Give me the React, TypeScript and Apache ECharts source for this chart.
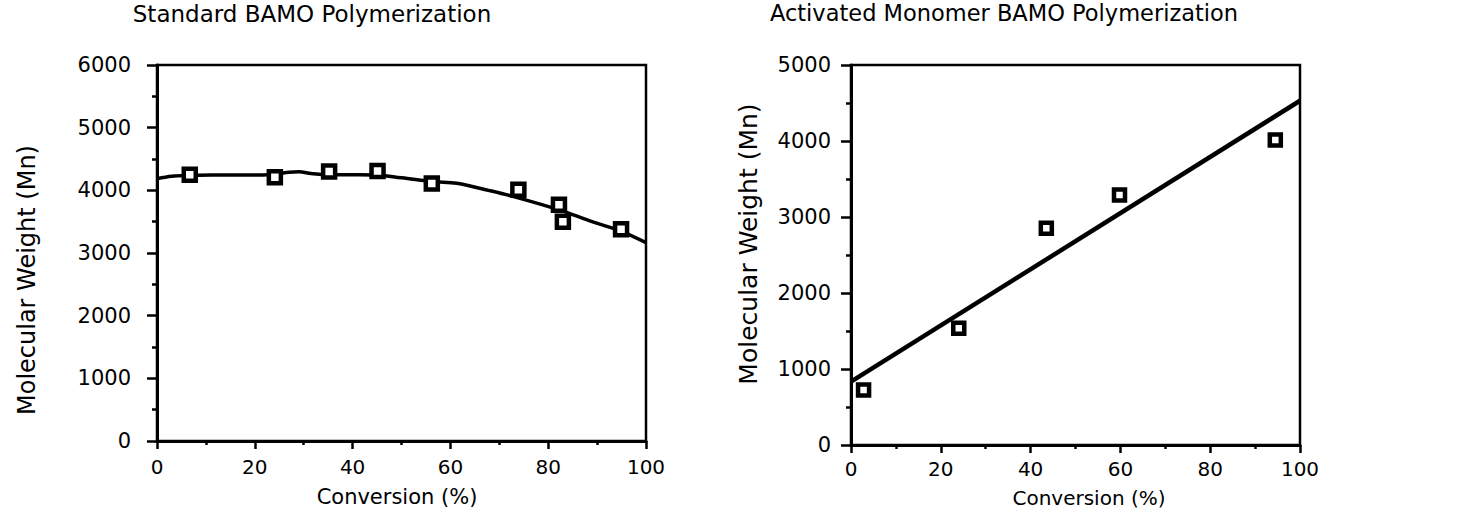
import React, { useEffect, useRef } from "react";
import * as echarts from "echarts";

// Standard BAMO polymerization: measured points (conversion %, Mn)
const stdConversion = [6.7, 24.1, 35.2, 45.1, 56.2, 73.9, 82.2, 83.0, 94.9];
const stdMn = [4250, 4210, 4300, 4310, 4110, 4010, 3770, 3500, 3380];

// Standard BAMO polymerization: fitted curve
const stdFitConversion = [0, 3, 6.7, 12, 17, 21, 24.5, 27, 29, 31.5, 34, 40, 44.2, 50, 56.5, 61.3, 68, 73.5, 82.4, 88.5, 94.7, 100];
const stdFitMn = [4185, 4225, 4238, 4244, 4246, 4246, 4262, 4290, 4296, 4268, 4250, 4248, 4246, 4200, 4139, 4112, 3995, 3888, 3684, 3513, 3353, 3165];

// Activated monomer BAMO polymerization: measured points
const amConversion = [2.8, 24.0, 43.5, 59.8, 94.5];
const amMn = [724, 1535, 2851, 3289, 4013];

// Activated monomer BAMO polymerization: linear fit end points
const amFitConversion = [0, 100];
const amFitMn = [833, 4530];

const xTicks = [0, 20, 40, 60, 80, 100];

const FONT = "DejaVu Sans";

const pairs = (xs: number[], ys: number[]) => xs.map((x, i) => [x, ys[i]]);

function xAxisCfg(gridIndex: number, margin: number) {
  return {
    type: "value" as const,
    gridIndex,
    min: 0,
    max: 100,
    interval: 20,
    axisLine: { show: true, onZero: false, lineStyle: { color: "#000", width: 3 } },
    axisTick: { show: true, inside: false, length: 8, lineStyle: { color: "#000", width: 2.5 } },
    minorTick: { show: true, splitNumber: 2, length: 4, lineStyle: { color: "#000", width: 2.5 } },
    splitLine: { show: false },
    axisLabel: {
      margin,
      color: "#000",
      fontFamily: FONT,
      fontSize: 20,
      formatter: (v: number) => (xTicks.includes(v) ? String(v) : ""),
    },
  };
}

function yAxisCfg(gridIndex: number, max: number, margin: number) {
  return {
    type: "value" as const,
    gridIndex,
    min: 0,
    max,
    interval: 1000,
    axisLine: { show: true, onZero: false, lineStyle: { color: "#000", width: 3 } },
    axisTick: { show: true, inside: false, length: 10, lineStyle: { color: "#000", width: 2.5 } },
    minorTick: { show: true, splitNumber: 2, length: 5, lineStyle: { color: "#000", width: 2.5 } },
    splitLine: { show: false },
    axisLabel: {
      margin,
      color: "#000",
      fontFamily: FONT,
      fontSize: 21,
      formatter: (v: number) => String(v),
    },
  };
}

const markerStyle = { color: "#fff", borderColor: "#000", borderWidth: 4.5, opacity: 1 };

export default function App() {
  const ref = useRef<HTMLDivElement>(null);

  useEffect(() => {
    if (!ref.current) return;
    const chart = echarts.init(ref.current, undefined, { renderer: "svg" });

    const text = (
      t: string,
      x: number,
      y: number,
      size: number,
      rotation = 0
    ) => ({
      type: "text" as const,
      x,
      y,
      rotation,
      style: {
        text: t,
        fill: "#000",
        font: `${size}px "${FONT}"`,
        textAlign: "center" as const,
        textVerticalAlign: "middle" as const,
      },
    });

    chart.setOption({
      animation: false,
      backgroundColor: "#fff",
      grid: [
        { left: 157, top: 65, width: 489, height: 376, show: true, borderColor: "#000", borderWidth: 2.5, backgroundColor: "transparent" },
        { left: 851, top: 65, width: 449, height: 380, show: true, borderColor: "#000", borderWidth: 2.5, backgroundColor: "transparent" },
      ],
      xAxis: [xAxisCfg(0, 16), xAxisCfg(1, 14)],
      yAxis: [yAxisCfg(0, 6000, 26), yAxisCfg(1, 5000, 20)],
      graphic: [
        text("Standard BAMO Polymerization", 312, 14, 23),
        text("Activated Monomer BAMO Polymerization", 1004, 13, 22.5),
        text("Conversion (%)", 397, 497, 21),
        text("Conversion (%)", 1089, 498, 20),
        text("Molecular Weight (Mn)", 27, 280, 24, Math.PI / 2),
        text("Molecular Weight (Mn)", 748, 244, 25, Math.PI / 2),
      ],
      series: [
        {
          type: "line",
          xAxisIndex: 0,
          yAxisIndex: 0,
          data: pairs(stdFitConversion, stdFitMn),
          showSymbol: false,
          smooth: 0.35,
          lineStyle: { color: "#000", width: 3.5 },
          z: 2,
        },
        {
          type: "scatter",
          xAxisIndex: 0,
          yAxisIndex: 0,
          data: pairs(stdConversion, stdMn),
          symbol: "rect",
          symbolSize: 12,
          itemStyle: markerStyle,
          z: 3,
        },
        {
          type: "line",
          xAxisIndex: 1,
          yAxisIndex: 1,
          data: pairs(amFitConversion, amFitMn),
          showSymbol: false,
          lineStyle: { color: "#000", width: 4.5 },
          z: 2,
        },
        {
          type: "scatter",
          xAxisIndex: 1,
          yAxisIndex: 1,
          data: pairs(amConversion, amMn),
          symbol: "rect",
          symbolSize: 11,
          itemStyle: markerStyle,
          z: 3,
        },
      ],
    });

    return () => chart.dispose();
  }, []);

  return (
    <div
      ref={ref}
      style={{ position: "fixed", left: 0, top: 0, width: 1459, height: 515, background: "#fff" }}
    />
  );
}
